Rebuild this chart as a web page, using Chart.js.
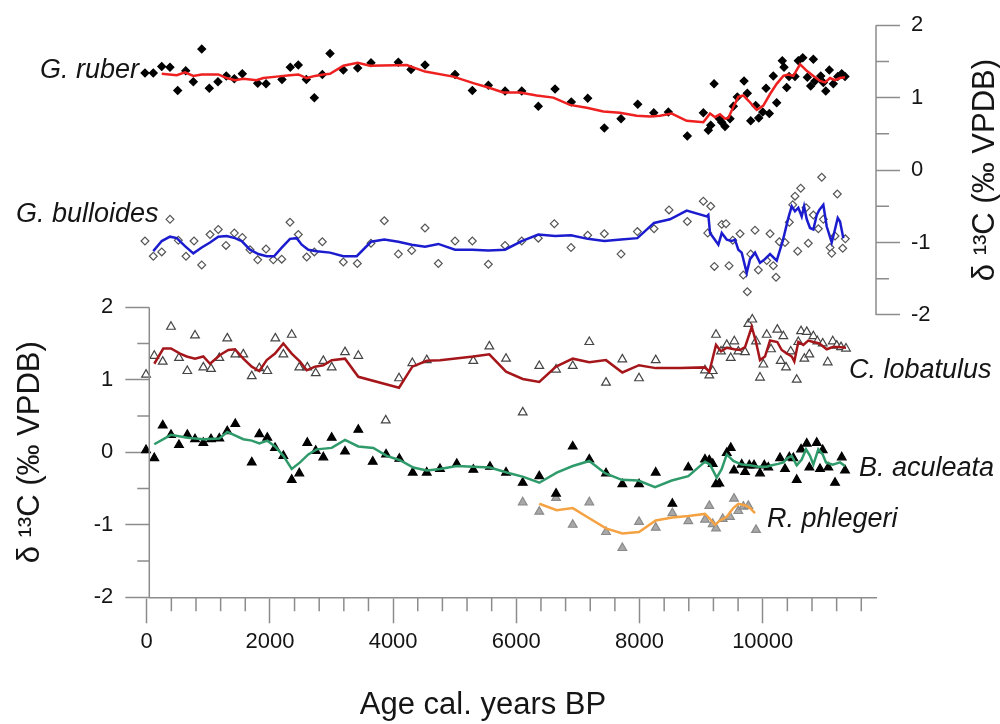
<!DOCTYPE html>
<html>
<head>
<meta charset="utf-8">
<title>d13C records</title>
<script src="https://cdn.jsdelivr.net/npm/chart.js@4.4.1/dist/chart.umd.min.js"></script>
<style>
  html, body { margin: 0; padding: 0; background: #fff; }
  #wrap { width: 1000px; height: 724px; position: relative; }
</style>
</head>
<body>
<div id="wrap"><canvas id="myChart"></canvas></div>
<script>
'use strict';

// =========================
// ======= DATA ============
// =========================
// every pair is [age cal. years BP, d13C]

// G. ruber (right axis)
var ruberPts = [[-28,1.34],[107,1.34],[244,1.43],[378,1.42],[503,1.10],[633,1.37],[757,1.22],[893,1.67],[1016,1.13],[1157,1.22],[1292,1.30],[1422,1.26],[1552,1.33],[1802,1.20],[1937,1.19],[2196,1.25],[2331,1.42],[2461,1.45],[2591,1.25],[2721,1.00],[2851,1.32],[2976,1.61],[3192,1.38],[3425,1.41],[3641,1.48],[4085,1.49],[4291,1.39],[4518,1.45],[5005,1.32],[5286,1.10],[5546,1.17],[5817,1.09],[6088,1.09],[6357,0.88],[6629,1.12],[6893,0.94],[7159,0.99],[7429,0.58],[7700,0.71],[7971,0.91],[8231,0.79],[8468,0.80],[8776,0.47],[9036,0.79],[9117,0.55],[9156,0.62],[9210,1.19],[9296,0.71],[9335,0.66],[9388,0.60],[9469,0.71],[9523,0.88],[9588,1.01],[9697,1.23],[9750,1.06],[9805,0.68],[9886,0.89],[9935,0.72],[10000,0.80],[10054,1.13],[10107,0.78],[10172,1.30],[10227,0.93],[10318,1.51],[10346,1.42],[10390,1.14],[10427,1.29],[10524,1.29],[10578,1.51],[10650,1.55],[10724,1.28],[10779,1.16],[10822,1.53],[10849,1.23],[10942,1.30],[10984,1.21],[11023,1.09],[11081,1.38],[11146,1.19],[11218,1.29],[11283,1.33],[11336,1.29]];
var ruberFit = [[244,1.33],[487,1.31],[622,1.35],[757,1.30],[893,1.32],[1162,1.32],[1299,1.27],[1433,1.24],[1568,1.26],[1786,1.24],[1893,1.27],[2110,1.29],[2326,1.31],[2461,1.32],[2597,1.27],[2732,1.30],[2867,1.32],[2976,1.33],[3192,1.44],[3425,1.48],[3625,1.44],[4221,1.45],[4518,1.36],[4977,1.29],[5302,1.20],[5546,1.14],[5789,1.07],[6060,1.07],[6331,1.03],[6601,1.00],[6870,0.90],[7143,0.86],[7413,0.81],[7682,0.79],[7955,0.75],[8171,0.74],[8333,0.75],[8523,0.78],[8766,0.68],[9036,0.66],[9145,0.78],[9226,0.73],[9307,0.77],[9388,0.71],[9442,0.72],[9523,0.87],[9604,1.01],[9685,1.03],[9766,0.96],[9903,0.83],[10010,0.89],[10119,1.05],[10227,1.19],[10335,1.30],[10416,1.32],[10497,1.30],[10606,1.46],[10715,1.37],[10822,1.30],[10930,1.23],[11012,1.21],[11093,1.27],[11174,1.24],[11255,1.27],[11336,1.28]];

// G. bulloides (right axis)
var bullPts = [[-28,-0.98],[107,-1.19],[244,-1.13],[378,-0.68],[513,-0.97],[638,-1.19],[768,-0.98],[893,-1.31],[1028,-0.89],[1162,-0.82],[1287,-1.04],[1422,-0.87],[1552,-0.93],[1677,-1.10],[1802,-1.24],[1937,-1.09],[2055,-1.24],[2192,-1.23],[2326,-0.72],[2461,-0.89],[2597,-1.20],[2721,-1.13],[2851,-0.99],[3192,-1.27],[3419,-1.29],[3641,-1.01],[3857,-0.70],[4085,-1.16],[4302,-1.11],[4518,-0.80],[4734,-1.29],[5005,-0.98],[5286,-0.98],[5546,-1.30],[5817,-1.04],[6088,-0.98],[6357,-0.94],[6617,-0.74],[6888,-1.07],[7159,-0.90],[7429,-0.88],[7700,-1.16],[7965,-0.85],[8236,-0.81],[8479,-0.55],[8776,-0.71],[9036,-0.43],[9156,-0.50],[9107,-0.87],[9215,-1.33],[9335,-0.75],[9404,-0.74],[9453,-1.32],[9513,-0.97],[9632,-0.88],[9685,-1.45],[9750,-1.68],[9805,-1.16],[9875,-0.83],[9929,-1.38],[10065,-1.25],[10119,-0.88],[10172,-1.32],[10216,-1.48],[10270,-0.99],[10362,-1.00],[10432,-0.72],[10487,-0.48],[10524,-0.36],[10568,-1.12],[10617,-0.25],[10703,-0.52],[10740,-1.01],[10822,-0.62],[10903,-0.81],[10958,-0.10],[10984,-0.68],[11093,-1.07],[11120,-1.15],[11211,-0.33],[11174,-0.91],[11299,-1.08],[11341,-0.95]];
var bullFit = [[107,-1.12],[244,-0.98],[378,-0.92],[487,-0.94],[622,-1.05],[757,-1.15],[893,-1.07],[1028,-1.00],[1162,-0.92],[1299,-0.91],[1433,-0.94],[1542,-0.98],[1677,-1.10],[1812,-1.16],[1948,-1.19],[2067,-1.19],[2192,-1.07],[2326,-0.95],[2435,-0.94],[2516,-1.03],[2623,-1.10],[2760,-1.12],[2976,-1.14],[3192,-1.19],[3409,-1.19],[3641,-0.99],[3857,-0.96],[4085,-0.99],[4302,-1.03],[4518,-1.06],[4734,-1.02],[5005,-1.10],[5286,-1.10],[5546,-1.11],[5817,-1.10],[6088,-0.98],[6357,-0.89],[6629,-0.91],[6888,-0.90],[7159,-0.95],[7429,-0.98],[7700,-0.96],[7965,-0.94],[8236,-0.73],[8495,-0.68],[8766,-0.56],[9091,-0.64],[9117,-0.62],[9145,-0.87],[9280,-1.03],[9335,-0.87],[9416,-0.96],[9497,-0.98],[9550,-0.96],[9604,-1.10],[9659,-1.14],[9740,-1.42],[9794,-1.23],[9875,-1.14],[9956,-1.28],[10037,-1.23],[10119,-1.16],[10227,-1.25],[10325,-0.98],[10416,-0.66],[10471,-0.50],[10524,-0.57],[10578,-0.52],[10633,-0.64],[10671,-0.50],[10715,-0.68],[10768,-0.80],[10822,-0.82],[10877,-0.62],[10919,-0.55],[10984,-0.48],[11039,-0.78],[11120,-1.00],[11147,-0.91],[11218,-0.66],[11255,-0.71],[11309,-0.94]];

// C. lobatulus (left axis)
var lobPts = [[-11,1.07],[123,1.33],[260,1.25],[394,1.73],[524,1.30],[659,1.12],[784,1.61],[919,1.17],[1044,1.15],[1179,1.30],[1308,1.57],[1438,1.35],[1568,1.35],[1705,1.05],[1828,1.16],[1958,1.12],[2088,1.57],[2218,1.35],[2354,1.62],[2477,1.17],[2607,1.17],[2744,1.09],[2867,1.26],[3003,1.17],[3219,1.38],[3435,1.33],[3880,0.44],[4096,1.02],[4312,1.23],[4546,1.27],[5302,1.26],[5562,1.46],[5833,1.29],[6104,0.55],[6373,1.19],[6645,1.14],[6916,1.19],[7185,1.52],[7456,0.96],[7721,1.28],[7992,1.02],[8263,1.27],[9063,1.13],[9133,1.06],[9188,1.12],[9242,1.62],[9323,1.39],[9416,1.48],[9481,1.30],[9539,1.53],[9604,1.39],[9713,1.38],[9766,1.77],[9831,1.83],[9891,1.53],[9956,1.03],[10010,1.21],[10065,1.62],[10135,1.42],[10237,1.69],[10292,1.26],[10335,1.60],[10378,1.17],[10455,1.39],[10552,1.00],[10578,1.52],[10622,1.67],[10676,1.29],[10715,1.66],[10757,1.35],[10822,1.60],[10887,1.53],[10974,1.50],[11055,1.24],[11137,1.53],[11202,1.47],[11271,1.45],[11352,1.43]];
var lobFit = [[123,1.22],[269,1.43],[394,1.43],[541,1.36],[649,1.32],[784,1.29],[919,1.32],[1028,1.22],[1190,1.34],[1325,1.41],[1433,1.42],[1568,1.29],[1705,1.18],[1828,1.12],[1948,1.27],[2083,1.36],[2218,1.50],[2354,1.36],[2489,1.25],[2597,1.13],[2732,1.18],[2867,1.20],[3003,1.27],[3219,1.29],[3435,1.04],[4096,0.89],[4312,1.18],[4546,1.26],[4761,1.27],[5302,1.32],[5562,1.35],[5833,1.11],[6104,1.01],[6373,0.97],[6645,1.18],[6916,1.29],[7185,1.24],[7456,1.27],[7721,1.10],[7992,1.20],[8263,1.16],[8658,1.16],[9063,1.17],[9133,1.11],[9242,1.48],[9323,1.39],[9416,1.44],[9539,1.42],[9632,1.41],[9713,1.45],[9822,1.73],[9891,1.52],[9956,1.27],[10037,1.32],[10119,1.54],[10237,1.52],[10308,1.41],[10378,1.37],[10471,1.32],[10513,1.25],[10578,1.52],[10659,1.48],[10740,1.54],[10822,1.52],[10919,1.50],[11039,1.42],[11137,1.45],[11228,1.45],[11352,1.44]];

// B. aculeata (left axis)
var aculPts = [[-11,0.03],[123,-0.08],[260,0.37],[394,0.24],[524,0.10],[659,0.24],[784,0.18],[919,0.13],[1044,0.18],[1179,0.19],[1308,0.29],[1438,0.39],[1705,-0.14],[1828,0.25],[1958,0.20],[2083,0.06],[2218,-0.05],[2354,-0.38],[2477,-0.29],[2607,0.13],[2744,0.02],[2867,-0.07],[3003,0.20],[3219,0.01],[3435,0.31],[3669,-0.13],[3885,-0.03],[4101,-0.09],[4318,-0.28],[4546,-0.28],[4761,-0.23],[5033,-0.16],[5302,-0.24],[5573,-0.20],[5833,-0.28],[6104,-0.42],[6373,-0.33],[6645,-0.57],[6916,0.08],[7185,-0.10],[7456,-0.29],[7721,-0.44],[7992,-0.44],[8263,-0.28],[8533,-0.71],[8792,-0.21],[9063,-0.10],[9133,-0.11],[9188,-0.16],[9242,-0.44],[9296,-0.43],[9416,-0.01],[9481,0.06],[9534,-0.25],[9659,-0.17],[9713,-0.27],[9783,-0.18],[9859,-0.18],[9956,-0.29],[10026,-0.18],[10091,-0.21],[10281,-0.08],[10362,-0.23],[10432,-0.07],[10497,-0.08],[10552,-0.38],[10622,0.04],[10715,0.12],[10757,-0.21],[10877,0.13],[10930,-0.23],[10974,0.03],[11065,-0.21],[11174,-0.42],[11283,-0.07],[11336,-0.25]];
var aculFit = [[123,0.11],[394,0.24],[659,0.20],[919,0.18],[1179,0.19],[1308,0.28],[1568,0.18],[1705,0.16],[1828,0.12],[1958,0.16],[2083,0.08],[2218,-0.05],[2354,-0.23],[2489,-0.14],[2623,-0.03],[2760,0.04],[3003,0.06],[3219,0.17],[3435,0.08],[3679,0.06],[3896,-0.05],[4112,-0.11],[4328,-0.21],[4546,-0.25],[4761,-0.23],[5033,-0.19],[5302,-0.20],[5573,-0.21],[5844,-0.28],[6114,-0.34],[6373,-0.42],[6656,-0.28],[6916,-0.19],[7185,-0.12],[7440,-0.29],[7711,-0.38],[7981,-0.39],[8252,-0.48],[8523,-0.39],[8792,-0.33],[9063,-0.13],[9145,-0.17],[9253,-0.35],[9335,-0.23],[9416,-0.03],[9523,-0.12],[9659,-0.17],[9794,-0.18],[9929,-0.20],[10065,-0.20],[10146,-0.18],[10253,-0.16],[10335,-0.14],[10400,-0.08],[10471,-0.05],[10552,-0.18],[10633,-0.10],[10703,0.04],[10768,-0.05],[10822,-0.17],[10903,0.04],[10974,-0.03],[11028,-0.14],[11137,-0.17],[11255,-0.14],[11336,-0.19]];

// R. phlegeri (left axis)
var phlPts = [[6104,-0.69],[6373,-0.82],[6645,-0.63],[6916,-1.00],[7185,-0.69],[7456,-1.10],[7721,-1.32],[7992,-0.96],[8263,-1.04],[8533,-0.84],[8792,-0.95],[9063,-0.93],[9133,-0.74],[9188,-0.99],[9242,-1.05],[9351,-0.92],[9469,-0.89],[9534,-0.64],[9604,-0.81],[9685,-0.75],[9766,-0.74],[9891,-1.07]];
var phlFit = [[6373,-0.71],[6656,-0.80],[6916,-0.77],[7185,-0.91],[7456,-1.05],[7721,-1.12],[7992,-1.10],[8263,-0.94],[8533,-0.90],[8792,-0.88],[9063,-0.85],[9133,-0.91],[9226,-1.00],[9307,-0.94],[9416,-0.89],[9523,-0.77],[9604,-0.71],[9713,-0.73],[9794,-0.77],[9875,-0.84]];

// tick labels
var ageTicks = [0, 2000, 4000, 6000, 8000, 10000];
var d13Ticks = [-2, -1, 0, 1, 2];
var d13Minor = [-1.5, -0.5, 0.5, 1.5];

// =========================
// ======= STYLE ===========
// =========================
var FONT = "'Liberation Sans', Arial, sans-serif";
var axisGray = '#8c8c8c';
var inkCol = '#151515';

function xy(list) {
    return list.map(function (p) { return {x: p[0], y: p[1]}; });
}

function pointSet(name, list, axis, style, bg, border) {
    return {
        label: name, data: xy(list), yAxisID: axis, order: 2, clip: false,
        showLine: false, pointStyle: style, pointRadius: style === 'triangle' ? 5 : 3.9,
        pointBackgroundColor: bg, pointBorderColor: border, pointBorderWidth: 1.2
    };
}

function lineSet(name, list, axis, col) {
    return {
        label: name, data: xy(list), yAxisID: axis, order: 1, clip: false,
        showLine: true, borderColor: col, borderWidth: 2.5, pointRadius: 0, tension: 0
    };
}

// extra drawing: partial y axis lines, minor ticks, species names, axis titles
var decor = {
    id: 'decor',
    afterDraw: function (chart) {
        var ctx = chart.ctx;
        var sx = chart.scales.x, yl = chart.scales.yL, yr = chart.scales.yR;
        var xBase = chart.chartArea.bottom;
        ctx.save();
        ctx.strokeStyle = axisGray;
        ctx.lineWidth = 1.5;
        ctx.beginPath();
        // left axis, -2..2
        ctx.moveTo(yl.right, yl.getPixelForValue(2));
        ctx.lineTo(yl.right, yl.getPixelForValue(-2));
        // right axis, -2..2
        ctx.moveTo(yr.left, yr.getPixelForValue(2));
        ctx.lineTo(yr.left, yr.getPixelForValue(-2));
        // minor ticks
        d13Minor.forEach(function (v) {
            var p = yl.getPixelForValue(v);
            ctx.moveTo(yl.right - 12, p); ctx.lineTo(yl.right, p);
            p = yr.getPixelForValue(v);
            ctx.moveTo(yr.left, p); ctx.lineTo(yr.left + 13, p);
        });
        for (var a = 400; a <= 11600; a += 400) {
            if (a % 2000 === 0) continue;
            var px = sx.getPixelForValue(a);
            ctx.moveTo(px, xBase); ctx.lineTo(px, xBase + 14);
        }
        ctx.stroke();

        // species names
        ctx.fillStyle = inkCol;
        ctx.textAlign = 'left';
        ctx.textBaseline = 'alphabetic';
        ctx.font = 'italic 27px ' + FONT;
        ctx.fillText('G. ruber', 40, 78);
        ctx.fillText('G. bulloides', 16, 222);
        ctx.fillText('C. lobatulus', 849, 378);
        ctx.fillText('B. aculeata', 859, 476);
        ctx.fillText('R. phlegeri', 767, 527);

        // x title
        ctx.font = '31px ' + FONT;
        ctx.textAlign = 'center';
        ctx.textBaseline = 'middle';
        ctx.fillText('Age cal. years BP', 483, 705);

        // y titles
        var t = 'δ ¹³C (‰ VPDB)';
        ctx.save();
        ctx.translate(30, yl.getPixelForValue(0));
        ctx.rotate(-Math.PI / 2);
        ctx.fillText(t, 0, 0);
        ctx.restore();
        ctx.save();
        ctx.translate(985, yr.getPixelForValue(0));
        ctx.rotate(-Math.PI / 2);
        ctx.fillText(t, 0, 0);
        ctx.restore();
        ctx.restore();
    }
};

// =========================
// ======= CHART ===========
// =========================
var ctx = document.getElementById('myChart').getContext('2d');

var chart = new Chart(ctx, {
    type: 'scatter',
    data: {
        datasets: [
            lineSet('G. ruber fit', ruberFit, 'yR', '#ee2020'),
            lineSet('G. bulloides fit', bullFit, 'yR', '#1c1ccf'),
            lineSet('C. lobatulus fit', lobFit, 'yL', '#a5161b'),
            lineSet('B. aculeata fit', aculFit, 'yL', '#2f9b6b'),
            lineSet('R. phlegeri fit', phlFit, 'yL', '#f5a243'),
            pointSet('G. ruber', ruberPts, 'yR', 'rectRot', '#000', '#000'),
            pointSet('G. bulloides', bullPts, 'yR', 'rectRot', '#fff', '#555'),
            pointSet('C. lobatulus', lobPts, 'yL', 'triangle', '#fff', '#444'),
            pointSet('B. aculeata', aculPts, 'yL', 'triangle', '#000', '#000'),
            pointSet('R. phlegeri', phlPts, 'yL', 'triangle', '#a8a8a8', '#8a8a8a')
        ]
    },
    options: {
        responsive: true,
        maintainAspectRatio: false,
        animation: false,
        layout: { padding: { top: 20.7, left: 0, right: 0, bottom: 0 } },
        plugins: {
            legend: { display: false },
            tooltip: { enabled: false }
        },
        scales: {
            x: {
                type: 'linear', position: 'bottom',
                min: 42, max: 11839,
                afterBuildTicks: function (s) { s.ticks = ageTicks.map(function (v) { return {value: v}; }); },
                afterFit: function (s) { s.height = 126.7; },
                ticks: {
                    autoSkip: false, maxRotation: 0, padding: 5, color: inkCol,
                    font: { family: FONT, size: 22 },
                    callback: function (v) { return String(v); }
                },
                grid: { drawOnChartArea: false, drawTicks: true, tickLength: 26, tickColor: axisGray, tickWidth: 1.5 },
                border: { display: true, color: axisGray, width: 1.5 },
                title: { display: false }
            },
            yL: {
                type: 'linear', position: 'left',
                min: -2, max: 5.888,
                afterBuildTicks: function (s) { s.ticks = d13Ticks.map(function (v) { return {value: v}; }); },
                afterFit: function (s) { s.width = 149.3; },
                ticks: { autoSkip: false, padding: 12, color: inkCol, font: { family: FONT, size: 22 }, callback: function (v) { return String(v); } },
                grid: { drawOnChartArea: false, drawTicks: true, tickLength: 24, tickColor: axisGray, tickWidth: 1.5 },
                border: { display: false }
            },
            yR: {
                type: 'linear', position: 'right',
                min: -5.899, max: 2,
                afterBuildTicks: function (s) { s.ticks = d13Ticks.map(function (v) { return {value: v}; }); },
                afterFit: function (s) { s.width = 124; },
                ticks: { autoSkip: false, padding: 11, color: inkCol, font: { family: FONT, size: 22 }, callback: function (v) { return String(v); } },
                grid: { drawOnChartArea: false, drawTicks: true, tickLength: 24, tickColor: axisGray, tickWidth: 1.5 },
                border: { display: false }
            }
        }
    },
    plugins: [decor]
});
</script>
</body>
</html>
